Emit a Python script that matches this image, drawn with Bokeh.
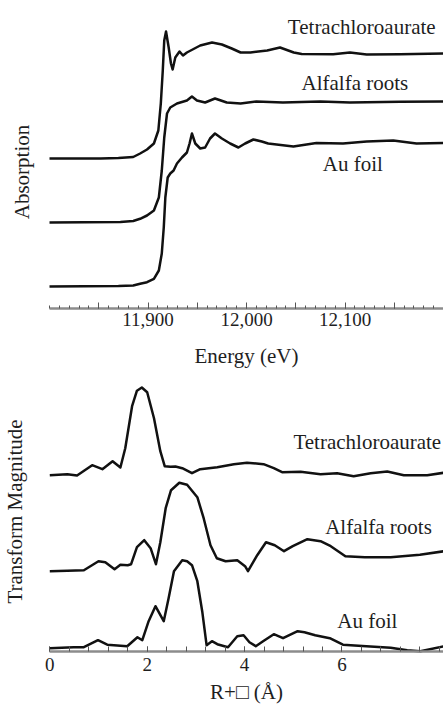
import math
from bokeh.plotting import figure
from bokeh.models import FixedTicker, Label, Range1d, LinearAxis
from bokeh.embed import file_html
from bokeh.resources import INLINE

# ---------------- XANES (top panel) ----------------
energy_tetra = [11800, 11852, 11870, 11885, 11892, 11899, 11906, 11910.5, 11913, 11915, 11916.5,
                11918.3, 11921, 11923.3, 11925, 11927.7, 11932, 11935.5, 11939.5, 11953, 11965,
                11975, 11985, 11994, 12004, 12021, 12034, 12048, 12056, 12088, 12105,
                12122, 12156, 12200]
abs_tetra = [0, 0, 0.005, 0.015, 0.05, 0.09, 0.15, 0.28, 0.55, 0.88, 1.18,
             1.27, 1.11, 0.95, 0.89, 1.01, 1.07, 1.03, 1.06, 1.13, 1.16,
             1.14, 1.10, 1.06, 1.06, 1.08, 1.11, 1.06, 1.045, 1.043, 1.06,
             1.04, 1.043, 1.05]

energy_alfalfa = [11800, 11872, 11885, 11892, 11899, 11906, 11911, 11914, 11916.5, 11919.3, 11922.6,
                  11929.4, 11939.5, 11944.6, 11949.7, 11958, 11968, 11980, 11994, 12010, 12037,
                  12075, 12105, 12156, 12200]
abs_alfalfa = [0, 0.005, 0.015, 0.037, 0.07, 0.12, 0.25, 0.52, 0.85, 1.09, 1.15,
               1.19, 1.22, 1.26, 1.22, 1.20, 1.24, 1.20, 1.19, 1.21, 1.20,
               1.21, 1.20, 1.207, 1.21]

energy_aufoil = [11800, 11870, 11885, 11892, 11899, 11906, 11911, 11914, 11916, 11917.6, 11920,
                 11922.6, 11926, 11929.4, 11934.5, 11939.5, 11942.2, 11944.6, 11948, 11953, 11958,
                 11963, 11968, 11975, 11983.4, 11991.8, 11998.6, 12007, 12015.5, 12022, 12047.6,
                 12071, 12098, 12122, 12149, 12172.6, 12200]
abs_aufoil = [0, 0.004, 0.01, 0.027, 0.043, 0.077, 0.16, 0.33, 0.59, 0.89, 1.09,
              1.13, 1.16, 1.23, 1.29, 1.34, 1.43, 1.53, 1.43, 1.38, 1.39,
              1.48, 1.53, 1.48, 1.43, 1.39, 1.43, 1.47, 1.45, 1.43, 1.40,
              1.435, 1.43, 1.45, 1.46, 1.43, 1.435]

energy_major_ticks = [11850, 11900, 11950, 12000, 12050, 12100, 12150]
energy_tick_labels = ["", "11,900", "", "12,000", "", "12,100", ""]
energy_minor_ticks = list(range(11800, 12201, 10))

# ---------------- EXAFS Fourier transform (bottom panel) ----------------
r_tetra = [0, 0.36, 0.56, 0.87, 1.08, 1.29, 1.45, 1.55, 1.69, 1.79,
           1.89, 2.0, 2.14, 2.27, 2.36, 2.48, 2.58, 2.72, 2.92, 3.09,
           3.44, 3.78, 4.05, 4.39, 4.6, 4.77, 5.15, 5.56, 5.9, 6.24,
           6.59, 6.93, 7.27, 7.75, 8.1]
ft_tetra = [0, 0.01, -0.003, 0.10, 0.06, 0.14, 0.077, 0.27, 0.69, 0.845,
            0.877, 0.83, 0.57, 0.24, 0.09, 0.085, 0.087, 0.07, 0.02, 0.06,
            0.08, 0.11, 0.125, 0.11, 0.07, 0.03, 0.035, 0.01, 0.02, -0.01,
            0.02, 0.037, 0.0, 0.0, 0.025]

r_alfalfa = [0, 0.36, 0.70, 1.0, 1.14, 1.33, 1.45, 1.60, 1.67, 1.79,
             1.94, 2.07, 2.18, 2.27, 2.38, 2.49, 2.66, 2.82, 3.03, 3.16,
             3.30, 3.43, 3.61, 3.85, 4.01, 4.07, 4.26, 4.44, 4.62, 4.81,
             4.99, 5.29, 5.56, 5.77, 6.07, 6.47, 7.0, 7.6, 8.1]
ft_alfalfa = [0, 0.005, 0.01, 0.10, 0.09, 0.02, 0.065, 0.06, 0.07, 0.24,
              0.31, 0.23, 0.07, 0.29, 0.63, 0.81, 0.885, 0.865, 0.74, 0.53,
              0.26, 0.13, 0.10, 0.11, 0.05, 0.00, 0.16, 0.29, 0.26, 0.20,
              0.25, 0.32, 0.30, 0.25, 0.15, 0.14, 0.14, 0.165, 0.20]

r_aufoil = [0, 0.49, 0.70, 0.99, 1.18, 1.59, 1.80, 1.90, 2.03, 2.17,
            2.34, 2.44, 2.55, 2.72, 2.82, 2.92, 3.03, 3.13, 3.22, 3.33,
            3.44, 3.66, 3.85, 3.98, 4.10, 4.23, 4.38, 4.60, 4.79, 5.09,
            5.23, 5.45, 5.75, 6.02, 6.50, 7.0, 7.34, 7.61, 8.1]
ft_aufoil = [0, 0.01, 0.01, 0.08, 0.035, 0.02, 0.11, 0.08, 0.27, 0.42,
             0.27, 0.50, 0.77, 0.88, 0.87, 0.83, 0.67, 0.37, 0.03, 0.07,
             0.04, 0.01, 0.12, 0.13, 0.06, 0.02, 0.07, 0.14, 0.10, 0.17,
             0.16, 0.13, 0.10, 0.035, 0.02, 0.005, -0.02, -0.03, 0.02]

r_major_ticks = [0, 2, 4, 6]
r_minor_ticks = [round(0.4 * i, 1) for i in range(0, 21)]

series_names = ["Tetrachloroaurate", "Alfalfa roots", "Au foil"]

# ---------------- layout / styling (positions, not data) ----------------
FONT = "Liberation Serif"
TXT = "#1e1e1e"
LINE = "#111111"
LW = 2.5
TOP_AXIS_Y = 3.99        # vertical position of the XANES axis
BOT_AXIS_Y = 0.563       # vertical position of the FT axis
xanes_offsets = [1.50, 0.86, 0.22]
ft_offsets = [1.76, 0.80, 0.03]

p = figure(width=443, height=707,
           x_range=Range1d(11750.25, 12200), y_range=Range1d(0, 7.07),
           x_axis_location=None, y_axis_location=None,
           output_backend="svg", toolbar_location=None, min_border=0)
p.extra_x_ranges = {"r": Range1d(-1.012, 8.085)}
p.outline_line_color = None
p.grid.visible = False
p.background_fill_color = "white"
p.border_fill_color = "white"


def style_axis(ax, label, lab_standoff, title_standoff, maj_in, min_in):
    ax.axis_line_color = "#8c8c8c"
    ax.axis_line_width = 2.5
    ax.major_tick_in = maj_in
    ax.major_tick_out = 0
    ax.minor_tick_in = min_in
    ax.minor_tick_out = 0
    ax.major_tick_line_color = "#555555"
    ax.minor_tick_line_color = "#555555"
    ax.major_tick_line_width = 1
    ax.minor_tick_line_width = 1
    ax.major_label_standoff = lab_standoff
    ax.major_label_text_font = FONT
    ax.major_label_text_font_size = "19px"
    ax.major_label_text_color = TXT
    ax.axis_label = label
    ax.axis_label_text_font = FONT
    ax.axis_label_text_font_size = "21px"
    ax.axis_label_text_font_style = "normal"
    ax.axis_label_text_color = TXT
    ax.axis_label_standoff = title_standoff


# top panel curves
for xs, ys, off in zip([energy_tetra, energy_alfalfa, energy_aufoil],
                       [abs_tetra, abs_alfalfa, abs_aufoil], xanes_offsets):
    p.line([float(x) for x in xs], [y + off + TOP_AXIS_Y for y in ys],
           line_color=LINE, line_width=LW, line_join="round")

# bottom panel curves
for xs, ys, off in zip([r_tetra, r_alfalfa, r_aufoil],
                       [ft_tetra, ft_alfalfa, ft_aufoil], ft_offsets):
    p.line(xs, [y + off + BOT_AXIS_Y for y in ys], x_range_name="r",
           line_color=LINE, line_width=LW, line_join="round")

ax_top = LinearAxis(fixed_location=TOP_AXIS_Y, bounds=(11800, 12200),
                    ticker=FixedTicker(ticks=energy_major_ticks, minor_ticks=energy_minor_ticks))
ax_top.major_label_overrides = {t: l for t, l in zip(energy_major_ticks, energy_tick_labels)}
style_axis(ax_top, "Energy (eV)", 4, 15, 6, 3)
p.add_layout(ax_top, "below")

ax_bot = LinearAxis(x_range_name="r", fixed_location=BOT_AXIS_Y, bounds=(0, 8.085),
                    ticker=FixedTicker(ticks=r_major_ticks, minor_ticks=r_minor_ticks))
style_axis(ax_bot, "R+\u25a1 (\u00c5)", 7, 5, 5, 5)
p.add_layout(ax_bot, "below")

# series labels
top_label_pos = [(12117, 6.81), (12110, 6.25), (12108, 5.44)]
for name, (lx, ly) in zip(series_names, top_label_pos):
    p.add_layout(Label(x=lx, y=ly, text=name, text_align="center", text_baseline="middle",
                       text_font=FONT, text_font_size="21px", text_color=TXT))
bot_label_pos = [(6.52, 2.66), (6.75, 1.81), (6.52, 0.87)]
for name, (lx, ly) in zip(series_names, bot_label_pos):
    p.add_layout(Label(x=lx, y=ly, x_range_name="r", text=name, text_align="center",
                       text_baseline="middle", text_font=FONT, text_font_size="21px",
                       text_color=TXT))

# vertical axis titles
p.add_layout(Label(x=11771.6, y=5.355, text="Absorption", angle=math.pi / 2,
                   text_align="center", text_baseline="middle",
                   text_font=FONT, text_font_size="21px", text_color=TXT))
p.add_layout(Label(x=11764.5, y=1.96, text="Transform Magnitude", angle=math.pi / 2,
                   text_align="center", text_baseline="middle",
                   text_font=FONT, text_font_size="21px", text_color=TXT))

open("out.html", "w").write(file_html(p, INLINE))
